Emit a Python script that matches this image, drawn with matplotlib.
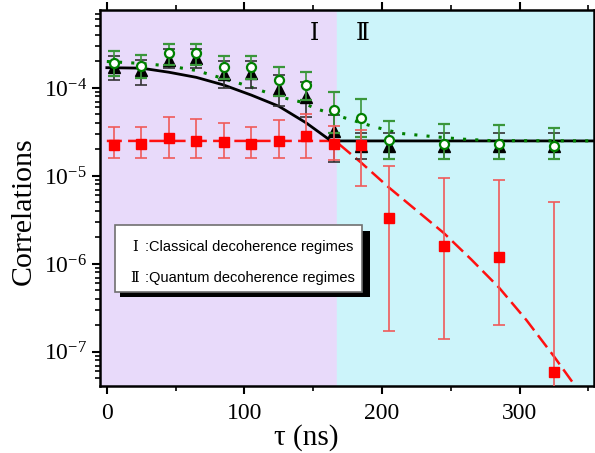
import matplotlib
matplotlib.use("Agg")
import matplotlib.pyplot as plt
import numpy as np
from matplotlib.ticker import LogLocator, FixedLocator, NullFormatter, FuncFormatter
from matplotlib.patches import Rectangle

plt.rcParams['font.family'] = ['Liberation Serif', 'DejaVu Serif']
plt.rcParams['mathtext.default'] = 'regular'

# delay times (ns)
tau = [5, 25, 45, 65, 85, 105, 125, 145, 165, 185, 205, 245, 285, 325]

# red squares
red_y = [2.25e-5, 2.3e-5, 2.72e-5, 2.5e-5, 2.4e-5, 2.3e-5, 2.5e-5, 2.87e-5,
         2.3e-5, 2.25e-5, 3.3e-6, 1.58e-6, 1.19e-6, 5.9e-8]
red_lo = [1.6e-5, 1.6e-5, 1.6e-5, 1.6e-5, 1.6e-5, 1.6e-5, 1.6e-5, 1.6e-5,
          1.5e-5, 7.7e-6, 1.74e-7, 1.4e-7, 2.0e-7, 1e-8]
red_hi = [3.6e-5, 3.6e-5, 4.7e-5, 4.4e-5, 4.0e-5, 3.6e-5, 4.3e-5, 5.0e-5,
          3.7e-5, 3.3e-5, 1.3e-5, 9.4e-6, 9.0e-6, 5.0e-6]

# green circles
grn_y = [1.94e-4, 1.78e-4, 2.48e-4, 2.48e-4, 1.72e-4, 1.75e-4, 1.23e-4, 1.07e-4,
         5.6e-5, 4.5e-5, 2.57e-5, 2.3e-5, 2.3e-5, 2.2e-5]
grn_lo = [1.37e-4, 1.3e-4, 1.8e-4, 1.8e-4, 1.26e-4, 1.26e-4, 8.0e-5, 7.3e-5,
          3.1e-5, 2.8e-5, 1.55e-5, 1.55e-5, 1.55e-5, 1.55e-5]
grn_hi = [2.6e-4, 2.4e-4, 3.16e-4, 3.16e-4, 2.3e-4, 2.3e-4, 1.75e-4, 1.5e-4,
          8.9e-5, 7.5e-5, 4.25e-5, 3.9e-5, 3.8e-5, 3.5e-5]

# black triangles
blk_y = [1.74e-4, 1.58e-4, 2.1e-4, 2.17e-4, 1.44e-4, 1.47e-4, 9.7e-5, 7.8e-5,
         3.27e-5, 2.2e-5, 2.2e-5, 2.2e-5, 2.2e-5, 2.2e-5]
blk_lo = [1.23e-4, 1.08e-4, 1.67e-4, 1.67e-4, 1.0e-4, 1.0e-4, 6.2e-5, 4.7e-5,
          1.45e-5, 1.55e-5, 1.55e-5, 1.55e-5, 1.55e-5, 1.55e-5]
blk_hi = [2.3e-4, 2.1e-4, 2.8e-4, 2.8e-4, 2.0e-4, 2.0e-4, 1.4e-4, 1.18e-4,
          4.9e-5, 3.1e-5, 3.05e-5, 3.05e-5, 3.05e-5, 3.05e-5]

# fitted curves
red_fit_x = [0, 166, 185, 205, 225, 245, 265, 285, 305, 325, 340]
red_fit_y = [2.5e-5, 2.5e-5, 1.41e-5, 7.4e-6, 4.07e-6, 2.24e-6, 1.12e-6, 5.4e-7, 2.3e-7, 8.9e-8, 4.2e-8]
blk_fit_x = [0, 25, 45, 65, 85, 105, 125, 145, 163, 354]
blk_fit_y = [1.7e-4, 1.68e-4, 1.51e-4, 1.32e-4, 1.08e-4, 8.3e-5, 6.2e-5, 4.0e-5, 2.5e-5, 2.5e-5]
grn_fit_x = [0, 25, 45, 65, 97, 126, 140, 153, 173, 194, 213, 235, 257, 279, 354]
grn_fit_y = [2.0e-4, 1.9e-4, 1.78e-4, 1.58e-4, 1.12e-4, 7.9e-5, 7.0e-5, 5.75e-5,
             4.57e-5, 3.63e-5, 3.05e-5, 2.82e-5, 2.63e-5, 2.52e-5, 2.5e-5]

boundary = 167


def yerr(y, lo, hi):
    y = np.array(y)
    return [y - np.array(lo), np.array(hi) - y]


fig = plt.figure(figsize=(5.95, 4.53), dpi=100)
ax = fig.add_axes([0.168, 0.148, 0.83, 0.83])
ax.set_xlim(-5, 354)
ax.set_ylim(4.1e-8, 7.7e-4)
ax.set_yscale('log')

ax.axvspan(-5, boundary, color='#E8DAFA', zorder=0)
ax.axvspan(boundary, 354, color='#CCF4FA', zorder=0)

ax.plot(red_fit_x, red_fit_y, color='#FF1010', lw=1.8, ls=(0, (6, 2.5)), zorder=3)
ax.plot(blk_fit_x, blk_fit_y, color='black', lw=2.0, zorder=3)
ax.plot(grn_fit_x, grn_fit_y, color='#008000', lw=2.2, ls=(0, (1, 3)), zorder=3)

ax.errorbar(tau, blk_y, yerr=yerr(blk_y, blk_lo, blk_hi), fmt='^', color='black',
            ms=8, ecolor='#333333', elinewidth=1.2, capsize=4, capthick=1.2, zorder=4)
ax.errorbar(tau, grn_y, yerr=yerr(grn_y, grn_lo, grn_hi), fmt='o', color='#008000',
            mfc='white', mec='#008000', mew=1.6, ms=6.5, ecolor='#3A963A',
            elinewidth=1.2, capsize=4, capthick=1.2, zorder=5)
ax.errorbar(tau, red_y, yerr=yerr(red_y, red_lo, red_hi), fmt='s', color='#FF0000',
            ms=6.5, ecolor='#F05A5A', elinewidth=1.2, capsize=4, capthick=1.2, zorder=6)

roman = ['DejaVu Serif', 'Noto Sans CJK JP']
ax.text(151, 4.2e-4, 'Ⅰ', fontsize=17, ha='center', va='center', family=roman)
ax.text(186, 4.2e-4, 'Ⅱ', fontsize=17, ha='center', va='center', family=roman)

# legend box with black shadow (axes fractions)
sh = Rectangle((0.0405, 0.237), 0.506, 0.176, transform=ax.transAxes,
               facecolor='black', edgecolor='none', zorder=7)
box = Rectangle((0.030, 0.250), 0.50, 0.178, transform=ax.transAxes,
                facecolor='white', edgecolor='#707070', lw=1.2, zorder=8)
ax.add_patch(sh)
ax.add_patch(box)
ax.text(0.071, 0.369, 'Ⅰ', transform=ax.transAxes, fontsize=10.5, ha='center', va='center',
        family=roman, zorder=9)
ax.text(0.091, 0.369, ':Classical decoherence regimes', transform=ax.transAxes,
        fontsize=10.5, ha='left', va='center', family='Liberation Sans', zorder=9)
ax.text(0.071, 0.286, 'Ⅱ', transform=ax.transAxes, fontsize=10.5, ha='center', va='center',
        family=roman, zorder=9)
ax.text(0.091, 0.286, ':Quantum decoherence regimes', transform=ax.transAxes,
        fontsize=10.5, ha='left', va='center', family='Liberation Sans', zorder=9)

ax.xaxis.set_major_locator(FixedLocator([0, 100, 200, 300]))
ax.xaxis.set_minor_locator(FixedLocator([50, 150, 250, 350]))
ax.yaxis.set_major_locator(LogLocator(base=10))
ax.yaxis.set_minor_locator(LogLocator(base=10, subs=np.arange(2, 10)))
ax.yaxis.set_minor_formatter(NullFormatter())
ax.yaxis.set_major_formatter(FuncFormatter(lambda v, p: r'$10^{%d}$' % round(np.log10(v))))

ax.tick_params(axis='both', which='major', labelsize=17, width=1.5, length=6, direction='out')
ax.tick_params(axis='x', which='major', pad=6)
ax.tick_params(axis='both', which='minor', width=1.2, length=3.5, direction='out')
ax.tick_params(axis='x', top=True, which='both')
for s in ax.spines.values():
    s.set_linewidth(1.8)

fig.text(306 / 595, 1 - 438 / 453, 'τ (ns)', fontsize=21, ha='center', va='center')
fig.text(24 / 595, 1 - 211 / 453, 'Correlations', fontsize=21.5, ha='center', va='center',
         rotation=90)

fig.savefig('out.png', dpi=100)
